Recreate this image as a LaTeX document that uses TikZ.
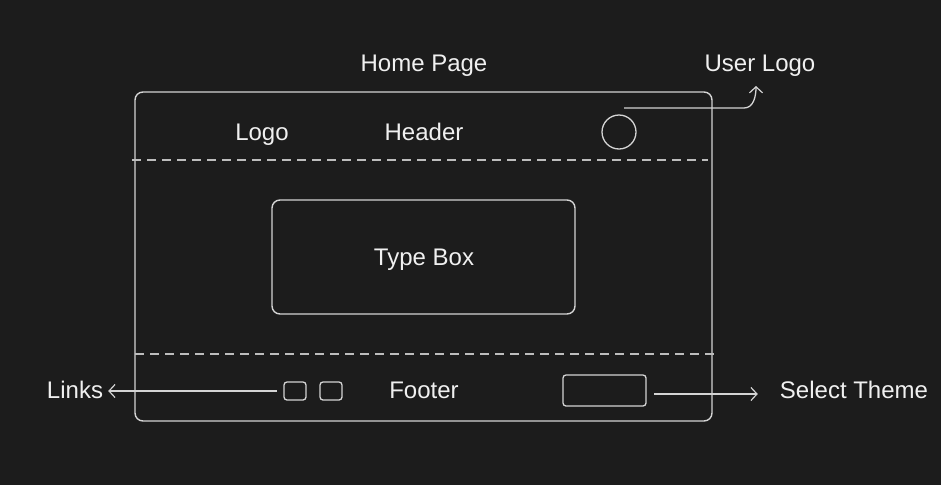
\documentclass[tikz,border=0pt]{standalone}
\usepackage{fontspec}
\setmainfont{Liberation Sans}
\usetikzlibrary{arrows.meta}
\definecolor{bg}{HTML}{1C1C1C}
\definecolor{ln}{HTML}{D4D4D4}
\definecolor{dl}{HTML}{BDBDBD}
\definecolor{tx}{HTML}{F0F0F0}
\begin{document}
\begin{tikzpicture}[x=1pt,y=-1pt,
  lbl/.style={text=tx,font=\fontsize{24}{26}\selectfont,inner sep=0pt,text height=17pt,text depth=0pt},
  frame/.style={draw=ln,line width=1.4pt,rounded corners=8pt},
  smallbox/.style={draw=ln,line width=1.3pt,rounded corners=3pt,minimum width=22pt,minimum height=18pt,inner sep=0pt},
  divider/.style={draw=dl,line width=1.4pt,dash pattern=on 9pt off 6pt},
  conn/.style={draw=ln,line width=1.3pt,-{Straight Barb[length=6pt,width=13pt,line width=1.2pt]}}]
\fill[bg] (0,0) rectangle (941,485);
\useasboundingbox (0,0) rectangle (941,485);
% outer frame
\node[frame,minimum width=577pt,minimum height=329pt,inner sep=0pt] (page) at (423.5,256.5) {};
\draw[divider] (132,160) -- (708,160);
\draw[divider] (135,354) -- (716,354);
% texts
\node[lbl] (home) at (424,63) {Home Page};
\node[lbl] (user) at (760,63) {User Logo};
\node[lbl] (logo) at (262,132) {Logo};
\node[lbl] (header) at (424,132) {Header};
\node[draw=ln,line width=1.3pt,circle,minimum size=34pt,inner sep=0pt] (avatar) at (619,132) {};
\node[frame,minimum width=303pt,minimum height=114pt,inner sep=0pt] (typebox) at (423.5,257) {};
\node[lbl] (typetext) at (424,257) {Type Box};
\node[smallbox] (sq1) at (295,391) {};
\node[smallbox] (sq2) at (331,391) {};
\node[lbl] (footer) at (424,390) {Footer};
\node[smallbox,minimum width=83pt,minimum height=31pt] (theme) at (604.5,390.5) {};
\node[lbl] (links) at (75,390) {Links};
\node[lbl] (select) at (854,390) {Select Theme};
% connectors
\coordinate (ulstart) at (624,108);
\coordinate (ulend) at (756,86);
\coordinate (lkstart) at (277,391);
\coordinate (thstart) at (654,394);
\draw[conn] (ulstart) -- (744,108) to[out=0,in=-90] (ulend);
\draw[conn,shorten >=5pt] (lkstart) -- (lkstart -| links.east);
\draw[conn,shorten >=22pt] (thstart) -- (thstart -| select.west);
\end{tikzpicture}
\end{document}
